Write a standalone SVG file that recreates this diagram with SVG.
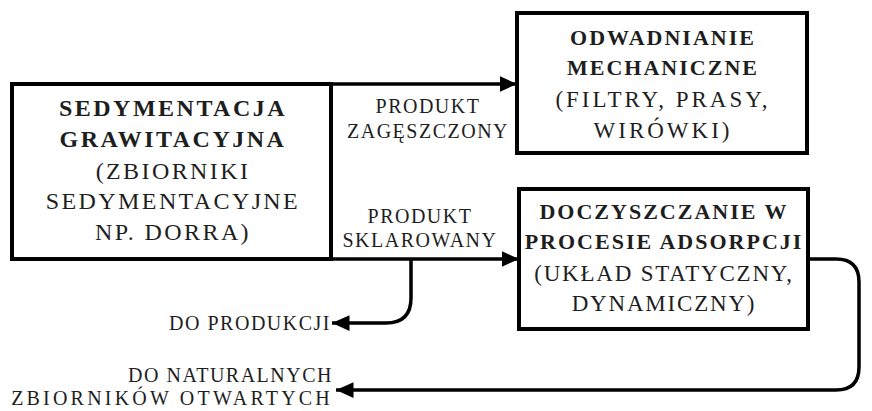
<svg xmlns="http://www.w3.org/2000/svg" width="872" height="411" viewBox="0 0 872 411">
<style>
text{font-family:"Liberation Serif","Times New Roman",serif;fill:#1e1e1e}
.b{font-weight:bold;font-size:22px;letter-spacing:2px}
.bl{font-weight:bold;font-size:24px;letter-spacing:2.5px}
.r{font-size:23px;letter-spacing:1.8px}
.rl{font-size:24px;letter-spacing:2.4px}
.s{font-size:20px;letter-spacing:1.5px}
.m{text-anchor:middle}
.e{text-anchor:end}
.box{fill:#fff;stroke:#000;stroke-width:4}
.ln{fill:none;stroke:#000;stroke-width:3.5}
</style>
<defs>
<marker id="ah" viewBox="0 0 10 10" refX="10" refY="5" markerWidth="5" markerHeight="5" markerUnits="strokeWidth" orient="auto">
<path d="M0,0.5 L10,5 L0,9.5 z" fill="#000"/>
</marker>
</defs>
<g id="connectors">
<path class="ln" d="M331,84 H517" marker-end="url(#ah)"/>
<path class="ln" d="M331,259 H519" marker-end="url(#ah)"/>
<path class="ln" d="M411,259 V298 Q411,323 386,323 H332" marker-end="url(#ah)"/>
<path class="ln" d="M808,259 H836 Q859,259 859,282 V367 Q859,390 836,390 H336" marker-end="url(#ah)"/>
</g>
<g id="sedymentacja">
<rect class="box" x="12" y="84" width="319" height="175"/>
<text class="bl m" x="173" y="116">SEDYMENTACJA</text>
<text class="bl m" x="173" y="147">GRAWITACYJNA</text>
<text class="rl m" x="173" y="179">(ZBIORNIKI</text>
<text class="rl m" x="173" y="209">SEDYMENTACYJNE</text>
<text class="rl m" x="173" y="240">NP. DORRA)</text>
</g>
<g id="odwadnianie">
<rect class="box" x="517" y="13" width="290" height="140"/>
<text class="b m" x="663" y="45">ODWADNIANIE</text>
<text class="b m" x="663" y="75">MECHANICZNE</text>
<text class="r m" x="663" y="107" style="letter-spacing:3px">(FILTRY, PRASY,</text>
<text class="r m" x="663" y="138" style="letter-spacing:3px">WIRÓWKI)</text>
</g>
<g id="doczyszczanie">
<rect class="box" x="519" y="189" width="289" height="140"/>
<text class="b m" x="664" y="219">DOCZYSZCZANIE W</text>
<text class="b m" x="664" y="249">PROCESIE ADSORPCJI</text>
<text class="r m" x="664" y="281">(UKŁAD STATYCZNY,</text>
<text class="r m" x="664" y="311">DYNAMICZNY)</text>
</g>
<g id="labels">
<text class="s m" x="428" y="113">PRODUKT</text>
<text class="s m" x="428" y="138">ZAGĘSZCZONY</text>
<text class="s m" x="420" y="223">PRODUKT</text>
<text class="s m" x="420" y="247">SKLAROWANY</text>
<text class="s e" x="331" y="330">DO PRODUKCJI</text>
<text class="s e" x="333" y="382">DO NATURALNYCH</text>
<text class="s e" x="333" y="405" style="letter-spacing:3.2px">ZBIORNIKÓW OTWARTYCH</text>
</g>
</svg>
